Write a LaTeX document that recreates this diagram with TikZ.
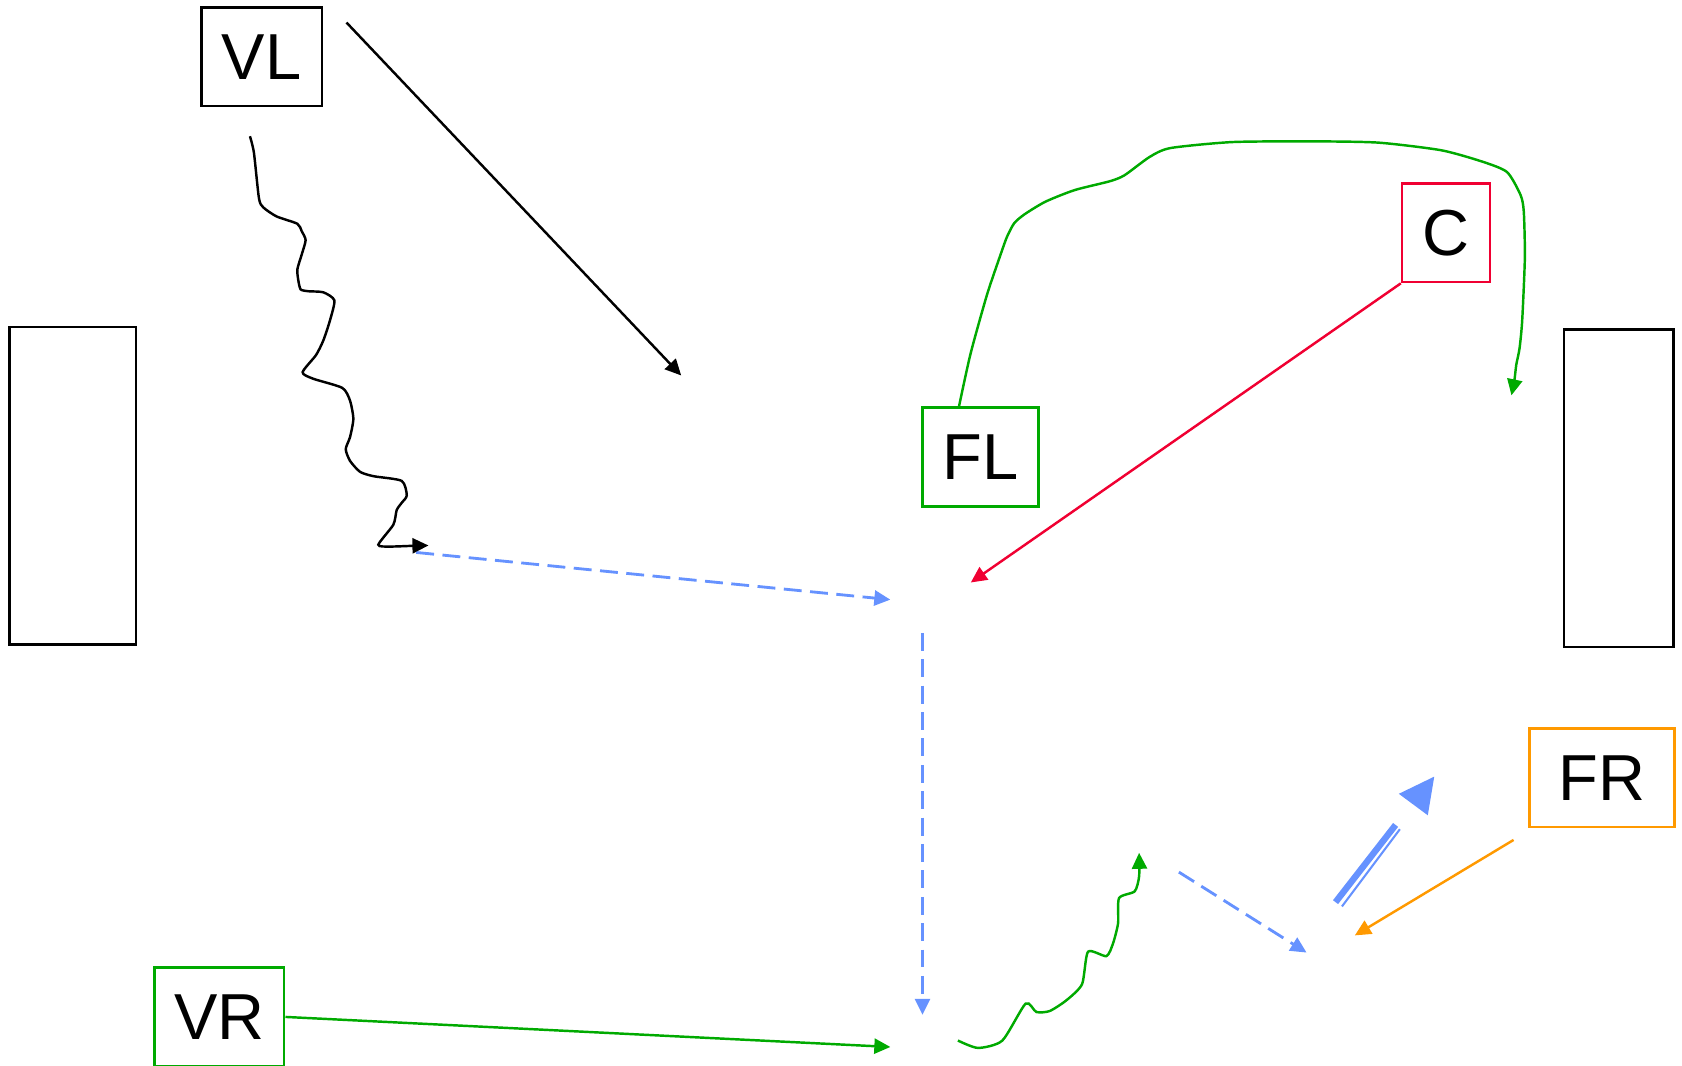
\documentclass[tikz,border=0pt]{standalone}
\usepackage{fontspec}
\setmainfont{Liberation Sans}
\usetikzlibrary{arrows.meta}
\definecolor{rayblue}{RGB}{102,146,255}
\definecolor{sigreen}{RGB}{0,170,0}
\definecolor{alarmred}{RGB}{240,0,50}
\definecolor{warnorange}{RGB}{255,153,0}

\begin{document}
\begin{tikzpicture}[x=0.02cm, y=-0.02cm, ->, >={Triangle[length=8.5pt, width=8pt]}, line width=1.3pt,
    box/.style={draw, rectangle, inner sep=0pt, minimum height=1.84cm, font=\fontsize{34.5}{40}\selectfont},
    wall/.style={draw, rectangle, inner sep=0pt, minimum width=#1, minimum height=5.92cm},
    ray/.style={rayblue, dash pattern=on 9.5pt off 4.5pt, line width=1.5pt}]
  \useasboundingbox (0,0) rectangle (1568,993);
  \node[box, minimum width=2.24cm] (VL) at (244,53) {VL};
  \node[box, draw=alarmred, minimum width=1.64cm] (C) at (1348,217) {C};
  \node[box, draw=sigreen, minimum width=2.16cm] (FL) at (914,426) {FL};
  \node[box, draw=warnorange, minimum width=2.7cm] (FR) at (1493.5,725) {FR};
  \node[box, draw=sigreen, minimum width=2.42cm] (VR) at (204.5,948) {VR};
  \node[wall=2.36cm] (wallL) at (68,453) {};
  \node[wall=2.04cm] (wallR) at (1509,455) {};
  \coordinate (vl-out) at (323,21);
  \coordinate (vl-hit) at (635,350);
  \coordinate (ray-a) at (388,515);
  \coordinate (ray-b) at (830,559);
  \coordinate (ray-c) at (860,590);
  \coordinate (ray-d) at (860,946);
  \coordinate (ray-e) at (1099,813);
  \coordinate (ray-f) at (1218,888);
  \coordinate (c-hit) at (905,543);
  \coordinate (vr-hit) at (830,976);
  \coordinate (fr-out) at (1411,783);
  \coordinate (fr-hit) at (1263,872);
  \coordinate (fl-out) at ([xshift=-0.4cm]FL.north);
  \path (vl-out) edge (vl-hit)
    (ray-a) edge[ray] (ray-b)
    (ray-c) edge[ray] (ray-d)
    (ray-e) edge[ray] (ray-f)
    (C.south west) edge[alarmred] (c-hit)
    (VR.east) edge[sigreen] (vr-hit)
    (fr-out) edge[warnorange] (fr-hit);
  \draw plot[smooth, tension=.4] coordinates {(233,127) (236.7,142.3) (241.4,184.8) (245.4,193.3) (257.9,201.8)
    (277.2,208.6) (281.2,215.4) (284.9,223.9) (281.2,237.5) (277.2,251.1) (278.1,261.3) (280.3,269.8)
    (287.4,271.5) (301.4,272.5) (311.7,280) (307.6,298.7) (301.4,317.4) (294.6,331) (282.1,347)
    (292.1,353.1) (319.1,361.6) (326.3,373.5) (329.4,390.5) (326.3,407.5) (322.3,418.7) (326.3,429.6)
    (335.6,439.8) (348.1,443.9) (374.5,448.3) (379.2,461.9) (374.5,468.7) (369.8,475.5) (366.7,489.1)
    (352.7,507.8) (363.6,509.5) (385.4,508.8) (399.4,508.5)};
  \draw[sigreen] plot[smooth, tension=.4] coordinates {(fl-out) (904.7,330) (920.2,274.4) (933.8,234.3)
    (938.9,220.4) (945.5,208) (955.2,199.7) (974.6,188) (1001.8,177.2) (1034.8,168.9) (1048.4,163.3)
    (1071.7,146.3) (1091.2,138) (1149.4,132.4) (1227.1,131.8) (1285.4,133) (1343.7,140.1) (1382.5,150.9)
    (1405,160.5) (1417.5,181.8) (1420.5,197.3) (1421.5,240) (1419,299) (1416.5,325) (1413.5,340)
    (1411.7,355) (1409,368.5)};
  \draw[sigreen] plot[smooth, tension=.4] coordinates {(893,970) (911.7,976.9) (934.4,970) (956.1,935.6)
    (966.1,943.4) (978.5,942.5) (994.1,932.5) (1008.7,917.5) (1014.3,887.2) (1031.4,891.3) (1037.6,879.4)
    (1042.3,860.6) (1043.2,837.2) (1057.8,830.9) (1061.9,816.9) (1061.9,795)};
  \coordinate (dbl-a) at (1245,841);
  \coordinate (dbl-b) at (1301,769);
  \draw[-, rayblue, line width=3.4pt] (dbl-a) -- (dbl-b);
  \draw[-, rayblue, line width=1.1pt] ([shift={(6,4)}]dbl-a) -- ([shift={(4,4)}]dbl-b);
  \fill[rayblue] (1304,740) -- (1337,724) -- (1331,760) -- cycle;
\end{tikzpicture}
\end{document}
